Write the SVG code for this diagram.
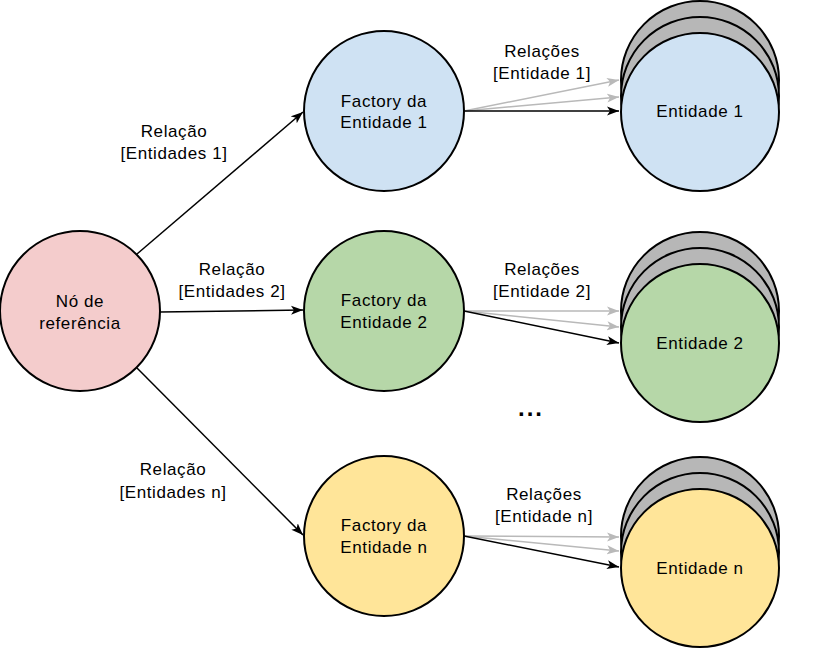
<svg xmlns="http://www.w3.org/2000/svg" width="833" height="669" viewBox="0 0 833 669">
<style>
.n{stroke:#000;stroke-width:2}
.t{font-family:"Liberation Sans",Arial,sans-serif;font-size:17px;letter-spacing:0.6px;text-anchor:middle;fill:#000}
.e{fill:none;stroke:#000;stroke-width:1.5}
.g{fill:none;stroke:#b9b9b9;stroke-width:1.5}
</style>
<defs>
<marker id="ab" markerUnits="userSpaceOnUse" markerWidth="14" markerHeight="10" refX="12" refY="5" orient="auto"><path d="M0,0.5 L12,5 L0,9.5 L3,5 Z" fill="#000"/></marker>
<marker id="ag" markerUnits="userSpaceOnUse" markerWidth="14" markerHeight="10" refX="12" refY="5" orient="auto"><path d="M0,0.5 L12,5 L0,9.5 L3,5 Z" fill="#b9b9b9"/></marker>
</defs>
<rect width="833" height="669" fill="#fff"/>
<g id="connectors">
<line class="e" x1="137" y1="254" x2="303" y2="112" marker-end="url(#ab)"/>
<line class="e" x1="160" y1="312" x2="303" y2="310" marker-end="url(#ab)"/>
<line class="e" x1="137" y1="368" x2="303" y2="535" marker-end="url(#ab)"/>
<line class="g" x1="464" y1="111" x2="619" y2="80" marker-end="url(#ag)"/>
<line class="g" x1="464" y1="111" x2="619" y2="97" marker-end="url(#ag)"/>
<line class="e" x1="464" y1="111" x2="619" y2="111" marker-end="url(#ab)"/>
<line class="g" x1="464" y1="311" x2="619" y2="311" marker-end="url(#ag)"/>
<line class="g" x1="464" y1="311" x2="619" y2="327" marker-end="url(#ag)"/>
<line class="e" x1="464" y1="311" x2="619" y2="343" marker-end="url(#ab)"/>
<line class="g" x1="464" y1="536" x2="619" y2="537" marker-end="url(#ag)"/>
<line class="g" x1="464" y1="536" x2="619" y2="551" marker-end="url(#ag)"/>
<line class="e" x1="464" y1="536" x2="619" y2="567" marker-end="url(#ab)"/>
<text class="t" x="174" y="137">Relação</text>
<text class="t" x="174" y="159">[Entidades 1]</text>
<text class="t" x="232" y="275">Relação</text>
<text class="t" x="232" y="297">[Entidades 2]</text>
<text class="t" x="173" y="475">Relação</text>
<text class="t" x="173" y="498">[Entidades n]</text>
<text class="t" x="542" y="57">Relações</text>
<text class="t" x="542" y="79">[Entidade 1]</text>
<text class="t" x="542" y="275">Relações</text>
<text class="t" x="542" y="297">[Entidade 2]</text>
<text class="t" x="544" y="500">Relações</text>
<text class="t" x="544" y="522">[Entidade n]</text>
</g>
<g id="ref">
<circle class="n" cx="80" cy="311" r="80" fill="#f4cccc"/>
<text class="t" x="80" y="307">Nó de</text>
<text class="t" x="80" y="329">referência</text>
</g>
<g id="factory1">
<circle class="n" cx="384" cy="111" r="80" fill="#cfe2f3"/>
<text class="t" x="384" y="107">Factory da</text>
<text class="t" x="384" y="128">Entidade 1</text>
</g>
<g id="factory2">
<circle class="n" cx="384" cy="311" r="80" fill="#b6d7a8"/>
<text class="t" x="384" y="306">Factory da</text>
<text class="t" x="384" y="328">Entidade 2</text>
</g>
<g id="factoryn">
<circle class="n" cx="384" cy="536" r="80" fill="#ffe599"/>
<text class="t" x="384" y="531">Factory da</text>
<text class="t" x="384" y="553">Entidade n</text>
</g>
<g id="entity1">
<circle class="n" cx="700" cy="80" r="79" fill="#b7b7b7"/>
<circle class="n" cx="700" cy="96" r="79" fill="#b7b7b7"/>
<circle class="n" cx="700" cy="112" r="79" fill="#cfe2f3"/>
<text class="t" x="700" y="117">Entidade 1</text>
</g>
<g id="entity2">
<circle class="n" cx="700" cy="311" r="79" fill="#b7b7b7"/>
<circle class="n" cx="700" cy="327" r="79" fill="#b7b7b7"/>
<circle class="n" cx="700" cy="343" r="79" fill="#b6d7a8"/>
<text class="t" x="700" y="349">Entidade 2</text>
</g>
<g id="entityn">
<circle class="n" cx="700" cy="536" r="79" fill="#b7b7b7"/>
<circle class="n" cx="700" cy="552" r="79" fill="#b7b7b7"/>
<circle class="n" cx="700" cy="568" r="79" fill="#ffe599"/>
<text class="t" x="700" y="574">Entidade n</text>
</g>
<g id="ellipsis">
<text class="t" x="531" y="416" style="font-size:24px;font-weight:bold;letter-spacing:2px">...</text>
</g>
</svg>
